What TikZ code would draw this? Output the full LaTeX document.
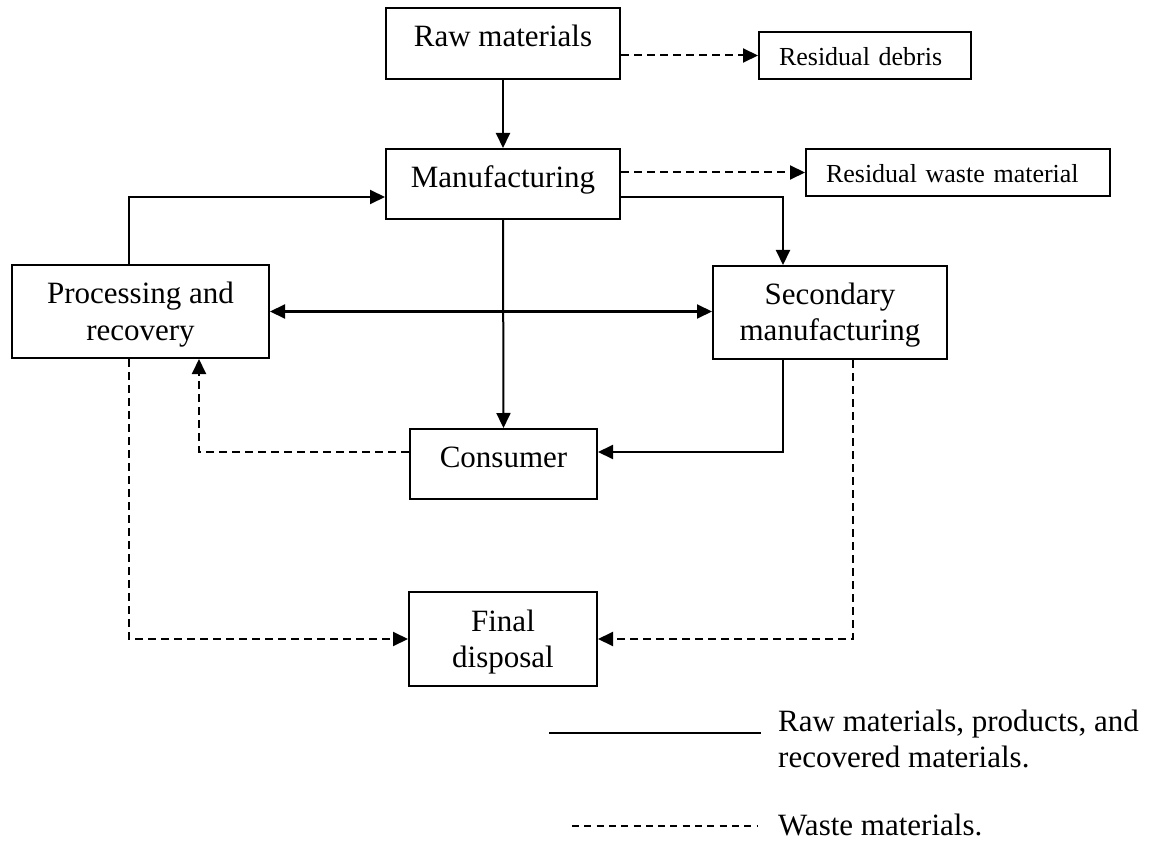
\documentclass[tikz,border=0pt]{standalone}
\usepackage{fontspec}
\setmainfont{Liberation Serif}
\usetikzlibrary{arrows.meta}
\begin{document}
\begin{tikzpicture}[x=1pt,y=-1pt,
  box/.style={draw, line width=2pt, inner sep=0pt, font=\fontsize{31}{36}\selectfont, align=center},
  onebox/.style={box, text height=23pt, text depth=16pt},
  twobox/.style={box, text height=60pt, text depth=3pt},
  resbox/.style={draw, line width=2pt, inner xsep=20pt, inner ysep=0pt, font=\fontsize{26}{30}\selectfont, align=left, text height=20pt, text depth=0pt, minimum height=47pt},
  flow/.style={line width=2pt, -{Triangle[length=15pt,width=14pt]}},
  both/.style={line width=2pt, {Triangle[length=15pt,width=14pt]}-{Triangle[length=15pt,width=14pt]}},
  waste/.style={flow, dash pattern=on 8pt off 5pt},
  legtext/.style={inner sep=0pt, font=\fontsize{31}{36}\selectfont, align=left, anchor=base west},
]
\path[use as bounding box] (0,0) rectangle (1160,845);

% boxes
\node[onebox, minimum width=234pt, minimum height=71pt] (raw) at (503,43.5) {Raw materials};
\node[onebox, minimum width=234pt, minimum height=70pt] (manu) at (503,184) {Manufacturing};
\node[resbox, text width=172pt] (debris) at (865,55.5) {Residual debris};
\node[resbox, text width=264pt] (rwaste) at (958,172.5) {Residual waste material};
\node[twobox, minimum width=257pt, minimum height=93pt] (proc) at (140.5,311.5) {Processing and\\recovery};
\node[twobox, minimum width=234pt, minimum height=93pt] (sec) at (830,312.5) {Secondary\\manufacturing};
\node[onebox, minimum width=187pt, minimum height=70pt] (cons) at (503.5,464) {Consumer};
\node[twobox, minimum width=188pt, minimum height=94pt] (final) at (503,639) {Final\\disposal};

% solid flows
\draw[flow] (raw.south) -- (manu.north);
\draw[flow] ([yshift=23pt]manu.south east) -| ([xshift=-47pt]sec.north);
\draw[flow] ([xshift=-11.5pt]proc.north) |- ([yshift=23pt]manu.south west);
\draw[flow] (manu.south) -- (cons.north);
\draw[both] (proc.east) -- (proc.east -| sec.west);
\draw[flow] ([xshift=-47pt]sec.south) |- ([yshift=12pt]cons.east);

% waste flows
\draw[waste] (raw.east |- debris.west) -- (debris.west);
\draw[waste] (manu.east |- rwaste.west) -- (rwaste.west);
\draw[waste] ([yshift=12pt]cons.west) -| ([xshift=58.5pt]proc.south);
\draw[waste] ([xshift=-11.5pt]proc.south) |- (final.west);
\draw[waste] ([xshift=23pt]sec.south) |- (final.east);

% legend
\coordinate (l1a) at (549,733);
\coordinate (l1b) at (761,733);
\coordinate (l2a) at (572,826);
\coordinate (l2b) at (757,826);
\draw[line width=2pt] (l1a) -- (l1b);
\draw[line width=1.6pt, dash pattern=on 7pt off 5.3pt] (l2a) -- (l2b);
\node[legtext] (leg1) at (778,767) {Raw materials, products, and\\recovered materials.};
\node[legtext] (leg2) at (778,835) {Waste materials.};
\end{tikzpicture}
\end{document}
